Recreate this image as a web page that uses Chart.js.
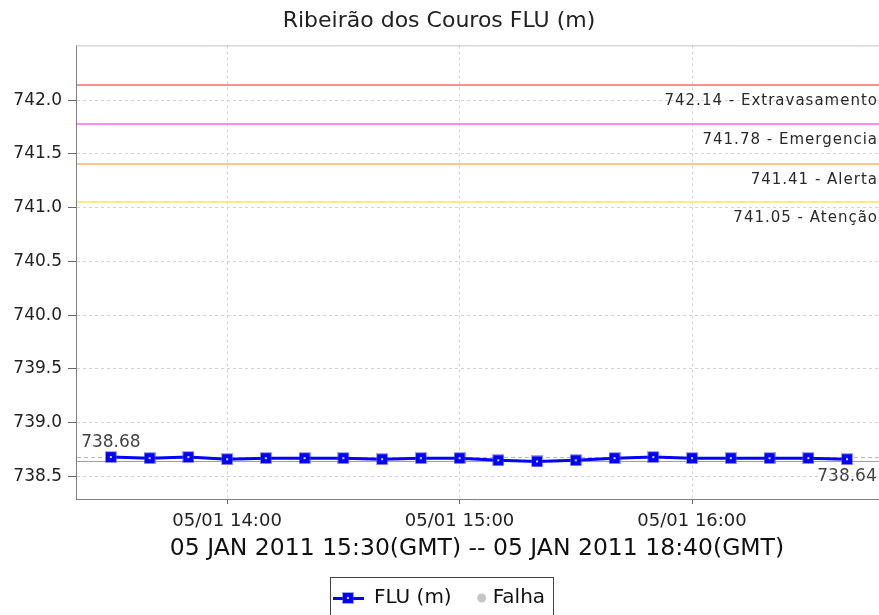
<!DOCTYPE html>
<html>
<head>
<meta charset="utf-8">
<title>Ribeirão dos Couros FLU (m)</title>
<script src="https://cdn.jsdelivr.net/npm/chart.js@4.4.1/dist/chart.umd.min.js"></script>
<style>
  html, body { margin: 0; padding: 0; background: #fff; }
  canvas { display: block; }
</style>
</head>
<body>
<canvas id="chart" width="879" height="615"></canvas>
<script>
// --- data ---
const chartTitle = 'Ribeirão dos Couros FLU (m)';
const periodLabel = '05 JAN 2011 15:30(GMT) -- 05 JAN 2011 18:40(GMT)';
const seriesNames = ['FLU (m)', 'Falha'];

const times = ['13:30', '13:40', '13:50', '14:00', '14:10', '14:20', '14:30', '14:40', '14:50', '15:00',
               '15:10', '15:20', '15:30', '15:40', '15:50', '16:00', '16:10', '16:20', '16:30', '16:40'];
const levels = [738.68, 738.67, 738.68, 738.66, 738.67, 738.67, 738.67, 738.66, 738.67, 738.67,
                738.65, 738.64, 738.65, 738.67, 738.68, 738.67, 738.67, 738.67, 738.67, 738.66];

const xTickTimes = ['14:00', '15:00', '16:00'];
const xTickLabels = ['05/01 14:00', '05/01 15:00', '05/01 16:00'];
const yTicks = [738.5, 739.0, 739.5, 740.0, 740.5, 741.0, 741.5, 742.0];

const thresholdValues = [742.14, 741.78, 741.41, 741.05];
const thresholdNames = ['Extravasamento', 'Emergencia', 'Alerta', 'Atenção'];

// axis range
const xStart = '13:21', xEnd = '16:48';
const yMin = 738.29, yMax = 742.51;

// --- styles ---
const thresholdColors = ['#ff8f8f', '#ff8cff', '#ffc58f', '#ffea8a'];
const FONT = 'DejaVu Sans';
Chart.defaults.font.family = FONT;

function toMinutes(t) {
    const p = t.split(':').map(Number);
    return p[0] * 60 + p[1];
}

function squareIcon(w) {
    const c = document.createElement('canvas');
    c.width = w; c.height = 12;
    const g = c.getContext('2d');
    const x0 = Math.floor((w - 12) / 2);
    if (w > 12) {
        g.fillStyle = '#0000ff';
        g.fillRect(0, 5, w, 3);
    }
    g.fillStyle = 'rgba(70,70,255,0.5)';
    g.fillRect(x0, 0, 12, 12);
    g.fillStyle = '#0000ff';
    g.fillRect(x0 + 1, 1, 10, 10);
    g.fillStyle = '#e0e0ff';
    g.fillRect(x0 + 5, 5, 2, 2);
    return c;
}

function dotIcon() {
    const c = document.createElement('canvas');
    c.width = 60; c.height = 11;
    const g = c.getContext('2d');
    g.fillStyle = '#c4c4c4';
    g.beginPath();
    g.arc(44.5, 5.5, 4.5, 0, Math.PI * 2);
    g.fill();
    return c;
}

const pointIcon = squareIcon(12);
const legendIcons = [squareIcon(31), dotIcon()];

const overlay = {
    id: 'overlay',
    beforeDatasetsDraw(chart) {
        const {ctx, chartArea: a, scales: {x, y}} = chart;
        ctx.save();
        // top frame line
        ctx.strokeStyle = '#c4c4c4';
        ctx.lineWidth = 1;
        ctx.beginPath();
        ctx.moveTo(a.left, a.top + 0.5);
        ctx.lineTo(a.right + 1, a.top + 0.5);
        ctx.stroke();

        // alarm levels
        thresholdValues.forEach((v, i) => {
            const py = Math.round(y.getPixelForValue(v));
            ctx.strokeStyle = thresholdColors[i];
            ctx.lineWidth = 2;
            ctx.beginPath();
            ctx.moveTo(a.left + 1, py);
            ctx.lineTo(a.right + 1, py);
            ctx.stroke();
            ctx.font = '15px "' + FONT + '"';
            ctx.letterSpacing = '1px';
            ctx.fillStyle = '#2a2a2a';
            ctx.textAlign = 'right';
            ctx.textBaseline = 'middle';
            ctx.fillText(v.toFixed(2) + ' - ' + thresholdNames[i], a.right, py + 16);
            ctx.letterSpacing = '0px';
        });

        // max / min lines
        const maxV = Math.max(...levels), minV = Math.min(...levels);
        const yMaxPx = Math.round(y.getPixelForValue(maxV)) + 0.5;
        const yMinPx = Math.round(y.getPixelForValue(minV)) + 0.5;
        ctx.lineWidth = 1;
        ctx.strokeStyle = '#b8b8b8';
        ctx.setLineDash([4, 3]);
        ctx.beginPath();
        ctx.moveTo(a.left + 1, yMaxPx);
        ctx.lineTo(a.right + 1, yMaxPx);
        ctx.stroke();
        ctx.setLineDash([]);
        ctx.strokeStyle = '#a0a0a0';
        ctx.beginPath();
        ctx.moveTo(a.left + 1, yMinPx);
        ctx.lineTo(a.right + 1, yMinPx);
        ctx.stroke();

        ctx.font = '17px "' + FONT + '"';
        ctx.fillStyle = '#444';
        ctx.textAlign = 'center';
        ctx.textBaseline = 'middle';
        ctx.fillText(maxV.toFixed(2), x.getPixelForValue(toMinutes(times[0])), yMaxPx - 15);
        ctx.fillText(minV.toFixed(2), x.getPixelForValue(toMinutes(times[times.length - 1])), yMinPx + 15);
        ctx.restore();
    },
    afterDraw(chart) {
        const lg = chart.legend;
        const hb = lg.legendHitBoxes;
        if (!hb || !hb.length) return;
        const first = hb[0], last = hb[hb.length - 1];
        const left = Math.round(first.left - 3) + 0.5;
        const right = Math.round(last.left + last.width + 8) + 0.5;
        const top = Math.round(lg.top - 11) + 0.5;
        const ctx = chart.ctx;
        ctx.save();
        ctx.strokeStyle = '#444';
        ctx.lineWidth = 1;
        ctx.strokeRect(left, top, right - left, 60);
        ctx.restore();
    }
};

new Chart(document.getElementById('chart'), {
    type: 'line',
    data: {
        datasets: [{
            label: seriesNames[0],
            data: times.map((t, i) => ({x: toMinutes(t), y: levels[i]})),
            borderColor: '#0000ff',
            backgroundColor: '#0000ff',
            borderWidth: 3,
            pointStyle: pointIcon,
            pointRadius: 6,
            tension: 0
        }, {
            label: seriesNames[1],
            data: [],
            borderColor: '#c4c4c4',
            backgroundColor: '#c4c4c4',
            pointStyle: legendIcons[1]
        }]
    },
    options: {
        responsive: false,
        animation: false,
        layout: {autoPadding: false, padding: {left: 0, right: 1, top: 0, bottom: -3}},
        plugins: {
            tooltip: {enabled: false},
            title: {
                display: true,
                text: chartTitle,
                color: '#222',
                font: {size: 22, weight: 'normal'},
                padding: {top: 8, bottom: 11}
            },
            legend: {
                position: 'bottom',
                labels: {
                    usePointStyle: true,
                    pointStyleWidth: 31,
                    padding: 0,
                    color: '#111',
                    font: {size: 20},
                    generateLabels: chart => chart.data.datasets.map((ds, i) => ({
                        text: ds.label,
                        pointStyle: legendIcons[i],
                        fillStyle: ds.borderColor,
                        strokeStyle: ds.borderColor,
                        lineWidth: 0,
                        hidden: false,
                        datasetIndex: i,
                        fontColor: '#111'
                    }))
                }
            }
        },
        scales: {
            x: {
                type: 'linear',
                min: toMinutes(xStart),
                max: toMinutes(xEnd),
                afterBuildTicks: s => { s.ticks = xTickTimes.map(t => ({value: toMinutes(t)})); },
                afterFit: s => { s.height = 89; },
                ticks: {
                    callback: (v, i) => xTickLabels[i],
                    color: '#222',
                    font: {size: 18},
                    padding: 7,
                    maxRotation: 0,
                    autoSkip: false
                },
                grid: {color: '#d4d4d4', tickColor: '#666', tickLength: 5},
                border: {display: true, color: '#808080', width: 1, dash: [3, 3]},
                title: {
                    display: true,
                    text: periodLabel,
                    color: '#111',
                    font: {size: 23.5},
                    padding: {top: 0, bottom: 25}
                }
            },
            y: {
                min: yMin,
                max: yMax,
                afterBuildTicks: s => { s.ticks = yTicks.map(v => ({value: v})); },
                afterFit: s => { s.width = 76; },
                ticks: {
                    callback: v => v.toFixed(1),
                    color: '#222',
                    font: {size: 17},
                    padding: 6
                },
                grid: {color: '#d4d4d4', tickColor: '#666', tickLength: 8},
                border: {display: true, color: '#808080', width: 1, dash: [3, 3]}
            }
        }
    },
    plugins: [overlay]
});
</script>
</body>
</html>
